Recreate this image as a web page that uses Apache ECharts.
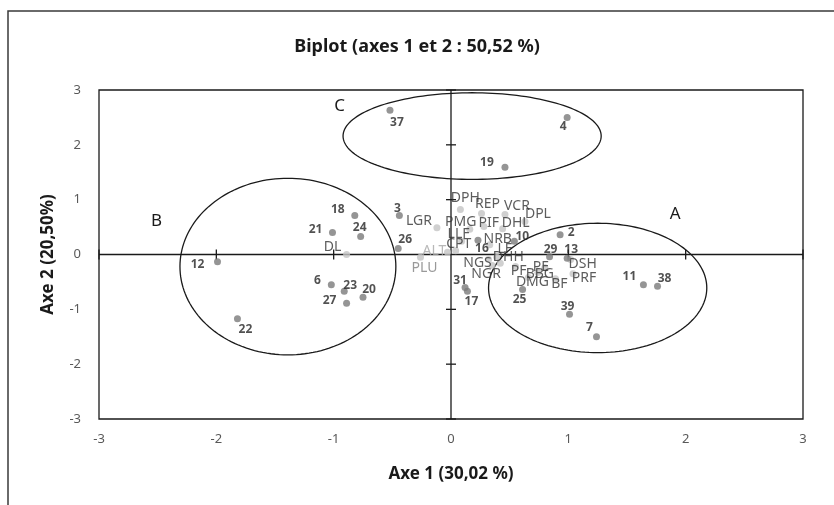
<!DOCTYPE html>
<html><head><meta charset="utf-8">
<script src="https://cdn.jsdelivr.net/npm/echarts@6/dist/echarts.min.js"></script>
<style>html,body{margin:0;padding:0;background:#fff}#c{width:834px;height:505px}</style>
</head><body><div id="c"></div>
<script>
// ---- data ----
const obsNames = ['37','4','19','12','21','18','24','6','23','20','27','22','3','26','2','13','29','11','38','39','7','25','31','17','16','10'];
const obsX = [-0.52,0.99,0.46,-1.99,-1.01,-0.82,-0.77,-1.02,-0.91,-0.75,-0.89,-1.82,-0.44,-0.45,0.93,0.99,0.84,1.64,1.76,1.01,1.24,0.61,0.12,0.14,0.23,0.54];
const obsY = [2.63,2.50,1.59,-0.13,0.40,0.71,0.33,-0.55,-0.67,-0.78,-0.89,-1.17,0.71,0.11,0.36,-0.07,-0.04,-0.55,-0.58,-1.09,-1.50,-0.64,-0.60,-0.67,0.26,0.24];

const varNames = ['DL','ALT','PLU','DPH','REP','VCR','DPL','LGR','PMG','PIF','DHL','LLF','CPT','NRB','LF','DHH','NGS','NGR','PF','PE','BBG','DMG','BF','DSH','PRF'];
const varX = [-0.89,-0.03,-0.26,0.08,0.26,0.46,0.63,-0.12,0.16,0.28,0.44,0.09,0.04,0.33,0.39,0.42,0.32,0.35,0.55,0.74,0.80,0.66,0.89,1.02,1.04];
const varY = [0.00,0.04,-0.05,0.82,0.75,0.73,0.60,0.49,0.46,0.51,0.47,0.24,0.07,0.18,-0.05,-0.16,-0.09,-0.20,-0.22,-0.33,-0.24,-0.42,-0.44,-0.09,-0.35];

const groupNames = ['A','B','C'];
const groupCX = [1.25,-1.39,0.18];
const groupCY = [-0.61,-0.22,2.16];
const groupRX = [0.93,0.92,1.10];
const groupRY = [1.18,1.61,0.79];
const groupLabelX = [1.91,-2.51,-0.95];
const groupLabelY = [0.73,0.60,2.70];

const axisTicks = [-3,-2,-1,0,1,2,3];

// ---- label placement (style, px offsets of label centre from the dot) ----
const obsOffset = {
  '37':[7,12],'4':[-4,9],'19':[-18,-5],'12':[-20,3],'21':[-17,-3],'18':[-17,-6],'24':[-1,-9],
  '6':[-14,-4],'23':[6,-6],'20':[6,-8],'27':[-17,-3],'22':[8,11],'3':[-2,-7],'26':[7,-9],
  '2':[11,-2],'13':[4,-9],'29':[1,-7],'11':[-14,-8],'38':[7,-8],'39':[-2,-8],'7':[-7,-9],
  '25':[-3,10],'31':[-5,-7],'17':[4,10],'16':[4,8],'10':[8,-5]
};
const varOffset = {
  DL:[-14,-7],ALT:[-13,-1],PLU:[4,11],DPH:[5,-12],REP:[6,-9],VCR:[12,-8],DPL:[13,-8],LGR:[-18,-7],
  PMG:[-9,-7],PIF:[5,-4],DHL:[13,-6],LLF:[-3,-7],CPT:[3,-7],NRB:[8,-6],LF:[8,-8],DHH:[8,-6],
  NGS:[-11,4],NGR:[-6,9],PF:[3,4],PE:[3,-6],BBG:[-5,6],DMG:[4,4],BF:[4,5],DSH:[12,5],PRF:[11,4]
};
const varLabelColor = {ALT:'#a6a6a6', PLU:'#7f7f7f'};

const FONT = "'Noto Sans', 'Open Sans', sans-serif";

const obsData = obsNames.map((n,i)=>({name:n, value:[obsX[i],obsY[i]]}));
const varData = varNames.map((n,i)=>({name:n, value:[varX[i],varY[i]], label:{color:varLabelColor[n]||'#333333'}}));
const groupData = groupNames.map((n,i)=>[groupCX[i],groupCY[i],groupRX[i],groupRY[i],groupLabelX[i],groupLabelY[i]]);

function layoutFor(names, offsets){
  return function(p){
    const o = offsets[names[p.dataIndex]] || [0,0];
    return {dx:o[0], dy:o[1], hideOverlap:false};
  };
}

const chart = echarts.init(document.getElementById('c'), null, {renderer:'canvas'});
chart.setOption({
  animation:false,
  backgroundColor:'#fff',
  title:{text:'Biplot (axes 1 et 2 : 50,52 %)', left:'center', top:33,
    textStyle:{fontFamily:FONT, fontSize:18, fontWeight:'bold', color:'#1a1a1a'}},
  graphic:[{type:'rect', shape:{x:8,y:11,width:840,height:520}, style:{fill:'none', stroke:'#3a3a3a', lineWidth:1.5}, silent:true}],
  grid:{left:99, right:31, top:90, bottom:86, show:true, borderColor:'#1a1a1a', borderWidth:1.3, backgroundColor:'transparent'},
  xAxis:{type:'value', min:-3, max:3, interval:1,
    axisLine:{show:false}, axisTick:{show:false}, splitLine:{show:false},
    axisLabel:{color:'#595959', fontSize:13, fontFamily:FONT, margin:14},
    name:'Axe 1 (30,02 %)', nameLocation:'middle', nameGap:47,
    nameTextStyle:{fontFamily:FONT, fontSize:17, fontWeight:'bold', color:'#1a1a1a'}},
  yAxis:{type:'value', min:-3, max:3, interval:1,
    axisLine:{show:false}, axisTick:{show:false}, splitLine:{show:false},
    axisLabel:{color:'#595959', fontSize:13, fontFamily:FONT, margin:18},
    name:'Axe 2 (20,50%)', nameLocation:'middle', nameGap:42,
    nameTextStyle:{fontFamily:FONT, fontSize:17, fontWeight:'bold', color:'#1a1a1a'}},
  series:[
    { // zero axes with crossing ticks
      type:'custom', silent:true, z:1, data:[[0,0]],
      renderItem:function(params, api){
        const ch=[];
        const a=api.coord([axisTicks[0],0]), b=api.coord([axisTicks[axisTicks.length-1],0]);
        const c=api.coord([0,axisTicks[0]]), d=api.coord([0,axisTicks[axisTicks.length-1]]);
        const st={stroke:'#1a1a1a', lineWidth:1.3};
        ch.push({type:'line', shape:{x1:a[0],y1:a[1],x2:b[0],y2:b[1]}, style:st});
        ch.push({type:'line', shape:{x1:c[0],y1:c[1],x2:d[0],y2:d[1]}, style:st});
        axisTicks.forEach(t=>{
          if(t===0) return;
          const p=api.coord([t,0]);
          ch.push({type:'line', shape:{x1:p[0],y1:p[1]-5,x2:p[0],y2:p[1]+5}, style:st});
          const q=api.coord([0,t]);
          ch.push({type:'line', shape:{x1:q[0]-5,y1:q[1],x2:q[0]+5,y2:q[1]}, style:st});
        });
        return {type:'group', children:ch};
      }
    },
    { // group ellipses
      type:'custom', silent:true, z:2, data:groupData,
      encode:{x:0, y:1},
      renderItem:function(params, api){
        const cpt=api.coord([api.value(0), api.value(1)]);
        const s=api.size([api.value(2), api.value(3)]);
        const pts=[];
        for(let i=0;i<=160;i++){const t=i/160*2*Math.PI; pts.push([cpt[0]+s[0]*Math.cos(t), cpt[1]+s[1]*Math.sin(t)]);}
        const lp=api.coord([api.value(4), api.value(5)]);
        return {type:'group', children:[
          {type:'polyline', shape:{points:pts}, style:{fill:null, stroke:'#1a1a1a', lineWidth:1.3}},
          {type:'text', style:{text:groupNames[params.dataIndex], x:lp[0], y:lp[1], fill:'#1a1a1a',
            font:'17px '+FONT, align:'center', verticalAlign:'middle'}}
        ]};
      }
    },
    { // variables
      type:'scatter', z:3, symbolSize:7, data:varData,
      itemStyle:{color:'#c4c4c4'},
      label:{show:true, position:'inside', formatter:'{b}', fontFamily:FONT, fontSize:14, color:'#333333'},
      labelLayout:layoutFor(varNames, varOffset)
    },
    { // observations
      type:'scatter', z:4, symbolSize:7, data:obsData,
      itemStyle:{color:'#7a7a7a'},
      label:{show:true, position:'inside', formatter:'{b}', fontFamily:FONT, fontSize:12, fontWeight:'bold', color:'#262626'},
      labelLayout:layoutFor(obsNames, obsOffset)
    }
  ]
});
</script></body></html>
